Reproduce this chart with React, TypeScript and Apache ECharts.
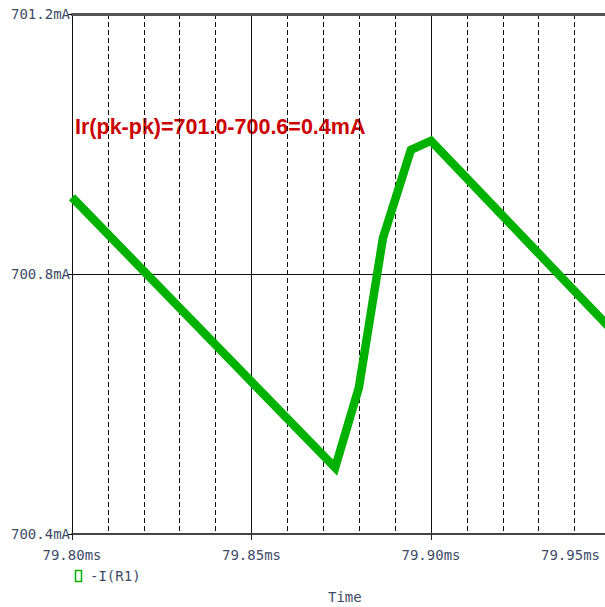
import React, { useEffect, useRef } from "react";
import * as echarts from "echarts";

// Time in ms, current in mA
const timeMs = [79.8, 79.8733, 79.8799, 79.8866, 79.8944, 79.9, 79.96];
const currentMa = [700.918, 700.502, 700.625, 700.855, 700.991, 701.005, 700.658];
const seriesName = "-I(R1)";
const annotation = "Ir(pk-pk)=701.0-700.6=0.4mA";
const xAxisTitle = "Time";

const labelFont = "'DejaVu Sans Mono', monospace";
const labelColor = "#3d4b66";

export default function App() {
  const ref = useRef<HTMLDivElement>(null);
  useEffect(() => {
    document.body.style.margin = "0";
    const chart = echarts.init(ref.current!, null, { renderer: "svg" });
    const data = timeMs.map((t, i) => [t, currentMa[i]]);
    chart.setOption({
      animation: false,
      backgroundColor: "#ffffff",
      grid: { left: 72, top: 14, width: 718, height: 520, outerBoundsMode: "none", containLabel: false },
      xAxis: [
        {
          type: "value",
          min: 79.8,
          max: 80.0,
          interval: 0.05,
          axisLine: { show: true, lineStyle: { color: "#444", width: 2 } },
          axisTick: { show: true, length: 6, lineStyle: { color: "#222" } },
          axisLabel: {
            margin: 14,
            fontFamily: labelFont,
            fontSize: 14,
            color: labelColor,
            showMaxLabel: false,
            formatter: (v: number) => {
              if (v > 79.97) return "";
              const s = v.toFixed(2) + "ms";
              return Math.abs(v - 79.95) < 1e-6 ? "{edge|" + s + "}{gap| }" : s;
            },
            rich: {
              edge: { fontFamily: labelFont, fontSize: 14, color: labelColor },
              gap: { fontFamily: labelFont, fontSize: 14, color: "transparent", width: 80 },
            },
          },
          splitLine: { show: true, lineStyle: { color: "#111", width: 1, type: "solid" } },
          minorTick: { show: false, splitNumber: 5 },
          minorSplitLine: { show: true, lineStyle: { color: "#111", width: 1, type: [5, 3] } },
        },
        {
          type: "value",
          position: "top",
          min: 79.8,
          max: 80.0,
          interval: 0.05,
          axisLine: { show: true, lineStyle: { color: "#555", width: 3 } },
          axisTick: { show: false },
          axisLabel: { show: false },
          splitLine: { show: false },
        },
      ],
      yAxis: {
        type: "value",
        min: 700.4,
        max: 701.2,
        interval: 0.4,
        axisLine: { show: true, lineStyle: { color: "#111", width: 1 } },
        axisTick: { show: true, length: 4, lineStyle: { color: "#111" } },
        axisLabel: {
          margin: 2,
          fontFamily: labelFont,
          fontSize: 14,
          color: labelColor,
          formatter: (v: number) => v.toFixed(1) + "mA",
        },
        splitLine: { show: true, lineStyle: { color: "#111", width: 1 } },
      },
      series: [
        {
          name: seriesName,
          type: "line",
          data,
          showSymbol: false,
          symbol: "none",
          lineStyle: { color: "#00b200", width: 8.5, join: "miter" },
        },
      ],
      graphic: [
        {
          type: "text",
          left: 75,
          top: 116,
          style: {
            text: annotation,
            font: "bold 21.5px 'Liberation Sans', Arial, sans-serif",
            fill: "#cc0000",
          },
        },
        {
          type: "rect",
          shape: { x: 75.5, y: 570.5, width: 6, height: 11 },
          style: { fill: "none", stroke: "#00b200", lineWidth: 1.5 },
        },
        {
          type: "text",
          left: 90,
          top: 569,
          style: { text: seriesName, font: "14px " + labelFont, fill: labelColor },
        },
        {
          type: "text",
          left: 328,
          top: 590,
          style: { text: xAxisTitle, font: "14px " + labelFont, fill: labelColor },
        },
      ],
    });
    return () => chart.dispose();
  }, []);
  return <div ref={ref} style={{ width: 605, height: 607 }} />;
}
